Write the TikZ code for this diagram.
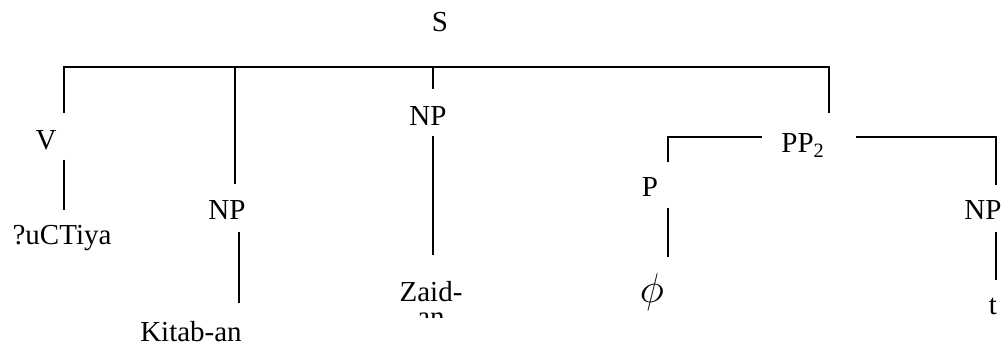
\documentclass[tikz,border=0pt]{standalone}
\usepackage{fontspec}
\setmainfont{Liberation Serif}
\usepackage{tikz}
\usetikzlibrary{calc, positioning}

\begin{document}
\begin{tikzpicture}[x=0.5pt, y=-0.5pt,
    lbl/.style={font=\fontsize{14.5}{16}\selectfont, inner sep=0pt, anchor=base},
    branch/.style={line width=0.9pt}]
  \useasboundingbox (0,0) rectangle (1008,347);

  % Labels of the tree
  \node[lbl] (s) at (440,32) {S};
  \node[lbl] (v) at (46,150) {V};
  \node[lbl] (verb) at (62,245) {?uCTiya};
  \node[lbl] (np1) at (227,220) {NP};
  \node[lbl] (kitab) at (191,342) {Kitab-an};
  \node[lbl] (np2) at (428,126) {NP};
  \node[lbl] (zaid) at (431,302) {Zaid-};
  \node[lbl, anchor=base west] (pp) at (781,153) {PP\textsubscript{2}};
  \node[lbl] (p) at (650,197) {P};
  \node[lbl, anchor=center, font=\fontsize{21}{23}\selectfont] (phi) at (652,292) {$\phi$};
  \node[lbl] (np3) at (983,220) {NP};
  \node[lbl] (t) at (993,315) {t};
  % the cut-off second line under Zaid-
  \begin{scope}
    \clip (380,311) rectangle (480,318);
    \node[lbl] (zaidan) at (431,327) {an};
  \end{scope}

  % Bar under S
  \coordinate (sbarL) at (64,67);
  \coordinate (sbarR) at (829,67);
  \draw[branch] (64,113) -- (sbarL) -- (sbarR) -- (829,113);
  \draw[branch] (235,67) -- (235,184);
  \draw[branch] (433,67) -- (433,89);

  % Bar of PP
  \coordinate (ppL) at (668,137);
  \coordinate (ppR) at (996,137);
  \draw[branch] (668,162) -- (ppL) -- (762,137);
  \draw[branch] (856,137) -- (ppR) -- (996,185);

  % Lines down to the words
  \draw[branch] (64,160) -- (64,210);
  \draw[branch] (239,232) -- (239,303);
  \draw[branch] (433,136) -- (433,255);
  \draw[branch] (668,208) -- (668,257);
  \draw[branch] (996,232) -- (996,280);
\end{tikzpicture}
\end{document}
